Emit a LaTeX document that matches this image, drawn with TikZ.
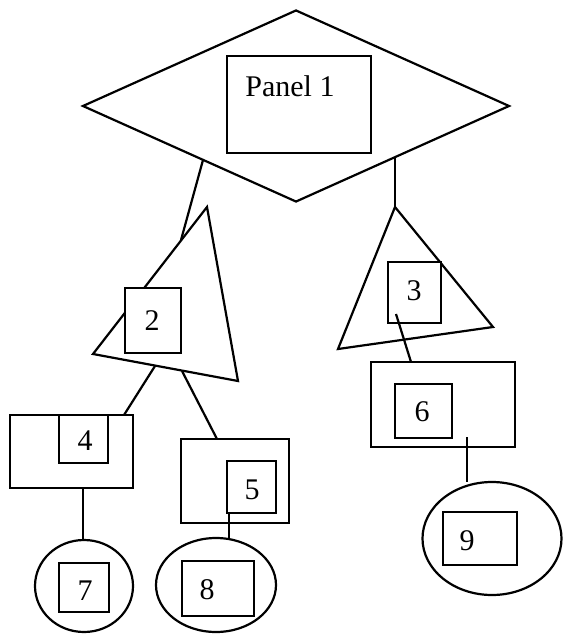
\documentclass[tikz,border=0pt]{standalone}
\usepackage{fontspec}
\setmainfont{Liberation Serif}
\usetikzlibrary{shapes.geometric}
\begin{document}
\begin{tikzpicture}[x=1pt,y=-1pt, line width=2.2pt, line join=miter,
  box/.style={draw, rectangle, inner sep=0pt},
  oval/.style={draw, ellipse, inner sep=0pt},
  lbl/.style={inner sep=0pt, font=\fontsize{30}{32}\selectfont}]
\useasboundingbox (0,0) rectangle (563,634);
% diamond with Panel 1
\node[draw, diamond, inner sep=0pt, minimum width=427pt, minimum height=192pt] (d) at (296,106) {};
\node[box, minimum width=144pt, minimum height=97pt] (p1) at (299,104.5) {};
\node[lbl] (p1t) at (290,86) {Panel 1};
% triangle 2
\coordinate (t2top) at (207,207);
\coordinate (t2l) at (93,354);
\coordinate (t2r) at (238,381);
\draw (t2top) -- (t2l) -- (t2r) -- cycle;
\node[box, minimum width=56pt, minimum height=65pt, fill=white] (b2) at (153,320.5) {};
\node[lbl] (b2t) at (152,321) {2};
% triangle 3
\coordinate (t3top) at (395,207);
\coordinate (t3l) at (338,349);
\coordinate (t3r) at (493,327);
\draw (t3top) -- (t3l) -- (t3r) -- cycle;
\node[box, minimum width=53pt, minimum height=61pt, fill=white] (b3) at (414.5,292.5) {};
\node[lbl] (b3t) at (414,291) {3};
% box 4
\node[box, minimum width=123pt, minimum height=73pt] (o4) at (71.5,451.5) {};
\node[box, minimum width=49pt, minimum height=48pt] (i4) at (83.5,439) {};
\node[lbl] (i4t) at (85,441) {4};
% box 5
\node[box, minimum width=108pt, minimum height=84pt] (o5) at (235,481) {};
\node[box, minimum width=49pt, minimum height=52pt] (i5) at (251.5,487) {};
\node[lbl] (i5t) at (252,490) {5};
% box 6
\node[box, minimum width=144pt, minimum height=85pt] (o6) at (443,404.5) {};
\node[box, minimum width=57pt, minimum height=54pt] (i6) at (423.5,411) {};
\node[lbl] (i6t) at (422,412) {6};
% ellipse 7
\node[oval, minimum width=98pt, minimum height=92pt] (e7) at (84,586) {};
\node[box, minimum width=50pt, minimum height=49pt] (i7) at (84,587.5) {};
\node[lbl] (i7t) at (85,591) {7};
% ellipse 8
\node[oval, minimum width=120pt, minimum height=94pt] (e8) at (216,585) {};
\node[box, minimum width=72pt, minimum height=55pt] (i8) at (218,588.5) {};
\node[lbl] (i8t) at (207,590) {8};
% ellipse 9
\node[oval, minimum width=139pt, minimum height=113pt] (e9) at (492,538.5) {};
\node[box, minimum width=74pt, minimum height=53pt] (i9) at (480,538.5) {};
\node[lbl] (i9t) at (467,541) {9};
% connector anchor points
\coordinate (cdl) at (203,160);
\coordinate (ct2) at (181,240);
\coordinate (cdr) at (395,158);
\coordinate (c2a) at (155,366);
\coordinate (c4) at (124,415);
\coordinate (c2b) at (182,371);
\coordinate (c5) at (217,439);
\coordinate (c3) at (396,314);
\coordinate (c6) at (411,362);
\coordinate (c6b) at (467,437);
\coordinate (c9) at (467,482);
\coordinate (c4b) at (83,488);
\coordinate (c7) at (83,540);
\coordinate (c5b) at (229,513);
\coordinate (c8) at (229,538);
% connectors
\draw (cdl) -- (ct2);
\draw (cdr) -- (t3top);
\draw (c2a) -- (c4);
\draw (c2b) -- (c5);
\draw (c3) -- (c6);
\draw (c6b) -- (c9);
\draw (c4b) -- (c7);
\draw (c5b) -- (c8);
\end{tikzpicture}
\end{document}
